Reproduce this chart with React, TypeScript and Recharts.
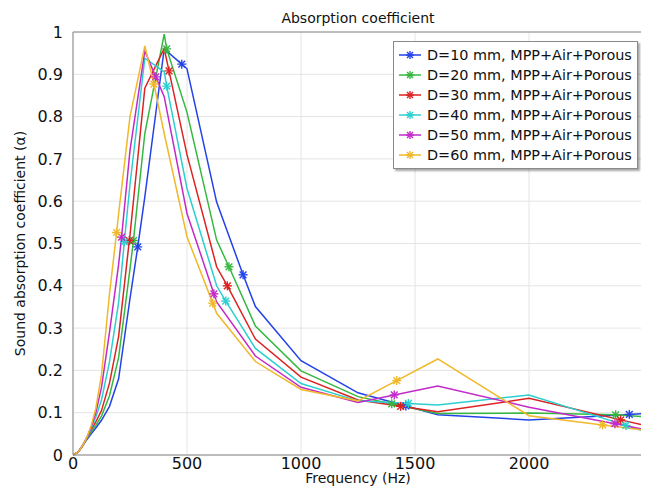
import React from 'react';
import { LineChart, Line, XAxis, YAxis, CartesianGrid, Legend, ReferenceLine } from 'recharts';

// 1/3-octave band centre frequencies (Hz)
const FREQS = [0, 20, 25, 31.5, 40, 50, 63, 80, 100, 125, 160, 200, 250, 315, 400, 500, 630, 800, 1000, 1250, 1600, 2000, 2500];

const D10 = [0, 0.006, 0.009, 0.014, 0.02, 0.028, 0.038, 0.05, 0.064, 0.082, 0.115, 0.18, 0.37, 0.61, 0.96, 0.913, 0.598, 0.351, 0.223, 0.147, 0.095, 0.083, 0.098];
const D20 = [0, 0.006, 0.009, 0.014, 0.02, 0.029, 0.04, 0.055, 0.07, 0.092, 0.14, 0.23, 0.44, 0.76, 0.995, 0.81, 0.508, 0.305, 0.199, 0.138, 0.098, 0.099, 0.091];
const D30 = [0, 0.006, 0.009, 0.014, 0.02, 0.03, 0.042, 0.06, 0.078, 0.105, 0.17, 0.28, 0.52, 0.867, 0.961, 0.71, 0.445, 0.274, 0.184, 0.13, 0.102, 0.134, 0.071];
const D40 = [0, 0.006, 0.009, 0.014, 0.021, 0.03, 0.043, 0.063, 0.09, 0.13, 0.22, 0.36, 0.64, 0.938, 0.906, 0.63, 0.4, 0.252, 0.169, 0.128, 0.118, 0.142, 0.057];
const D50 = [0, 0.006, 0.009, 0.014, 0.021, 0.03, 0.044, 0.066, 0.1, 0.16, 0.29, 0.45, 0.72, 0.955, 0.847, 0.571, 0.362, 0.234, 0.16, 0.124, 0.163, 0.113, 0.061];
const D60 = [0, 0.006, 0.009, 0.014, 0.021, 0.03, 0.045, 0.07, 0.11, 0.19, 0.38, 0.57, 0.8, 0.967, 0.76, 0.516, 0.335, 0.221, 0.155, 0.128, 0.227, 0.093, 0.059];

// marker positions [Hz, alpha]
const M10 = [[284, 0.492], [477, 0.924], [746, 0.426], [1460, 0.116], [2440, 0.096]];
const M20 = [[265, 0.507], [411, 0.96], [684, 0.445], [1398, 0.121], [2380, 0.095]];
const M30 = [[247, 0.507], [421, 0.908], [677, 0.4], [1437, 0.115], [2402, 0.083]];
const M40 = [[225, 0.504], [411, 0.872], [670, 0.364], [1471, 0.122], [2425, 0.07]];
const M50 = [[213, 0.515], [363, 0.894], [618, 0.381], [1409, 0.142], [2377, 0.074]];
const M60 = [[191, 0.526], [355, 0.877], [613, 0.359], [1420, 0.176], [2323, 0.071]];

const NAMES = ['D=10 mm, MPP+Air+Porous', 'D=20 mm, MPP+Air+Porous', 'D=30 mm, MPP+Air+Porous', 'D=40 mm, MPP+Air+Porous', 'D=50 mm, MPP+Air+Porous', 'D=60 mm, MPP+Air+Porous'];
const COLORS = ['#2343e8', '#35b840', '#dc2222', '#2ccfcf', '#c22ac8', '#f0b82a'];

const X_TICKS = [0, 500, 1000, 1500, 2000];
const Y_TICKS = [0, 0.1, 0.2, 0.3, 0.4, 0.5, 0.6, 0.7, 0.8, 0.9, 1];

const FONT = '"DejaVu Sans", Verdana, sans-serif';

const buildSeries = (vals: number[], marks: number[][]) => {
    const pts = FREQS.map((f, i) => ({ f, v: vals[i], m: false }));
    marks.forEach(([f, v]) => pts.push({ f, v, m: true }));
    return pts.sort((a, b) => a.f - b.f);
};

const SERIES = [
    buildSeries(D10, M10),
    buildSeries(D20, M20),
    buildSeries(D30, M30),
    buildSeries(D40, M40),
    buildSeries(D50, M50),
    buildSeries(D60, M60),
];

const Star = ({ cx, cy, color, r = 4.5 }: { cx: number; cy: number; color: string; r?: number }) => {
    const d = r * 0.75;
    return (
        <g stroke={color} strokeWidth={1.4}>
            <line x1={cx - r} y1={cy} x2={cx + r} y2={cy} />
            <line x1={cx} y1={cy - r} x2={cx} y2={cy + r} />
            <line x1={cx - d} y1={cy - d} x2={cx + d} y2={cy + d} />
            <line x1={cx - d} y1={cy + d} x2={cx + d} y2={cy - d} />
        </g>
    );
};

const LegendBox = () => (
    <div
        style={{
            border: '1px solid #8a8a8a',
            background: '#fff',
            boxShadow: '2px 2px 2px rgba(0,0,0,0.35)',
            padding: '3px 5px 3px 4px',
            fontFamily: FONT,
            fontSize: 14.4,
            color: '#111',
        }}
    >
        {NAMES.map((n, i) => (
            <div key={n} style={{ display: 'flex', alignItems: 'center', height: 20, whiteSpace: 'nowrap' }}>
                <svg width={24} height={12} style={{ marginRight: 5 }}>
                    <line x1={1} y1={6} x2={23} y2={6} stroke={COLORS[i]} strokeWidth={1.5} />
                    <Star cx={12} cy={6} color={COLORS[i]} r={4} />
                </svg>
                <span>{n}</span>
            </div>
        ))}
    </div>
);

export default function App() {
    const tickStyle = { fill: '#111', fontSize: 16, fontFamily: FONT };
    return (
        <LineChart width={641} height={482} margin={{ top: 24, right: 6, left: 0, bottom: 0 }}>
            <CartesianGrid stroke="#e4e4e4" strokeWidth={1} />
            <XAxis
                type="number"
                dataKey="f"
                domain={[0, 2500]}
                ticks={X_TICKS}
                tick={tickStyle}
                tickLine={false}
                tickSize={0}
                tickMargin={3}
                axisLine={{ stroke: '#888' }}
                height={35}
                allowDataOverflow
                label={{
                    content: ({ viewBox }: any) => (
                        <text x={viewBox.x + viewBox.width / 2} y={viewBox.y + 28} textAnchor="middle" fontFamily={FONT} fontSize={14} fill="#111">
                            Frequency (Hz)
                        </text>
                    ),
                }}
            />
            <YAxis
                type="number"
                domain={[0, 1]}
                ticks={Y_TICKS}
                tick={tickStyle}
                tickLine={false}
                tickSize={0}
                tickMargin={10}
                axisLine={{ stroke: '#888' }}
                width={65}
                label={{
                    content: ({ viewBox }: any) => {
                        const cy = viewBox.y + viewBox.height / 2;
                        return (
                            <text x={17} y={cy} transform={`rotate(-90 17 ${cy})`} textAnchor="middle" fontFamily={FONT} fontSize={14} fill="#111">
                                Sound absorption coefficient (α)
                            </text>
                        );
                    },
                }}
            />
            <ReferenceLine
                y={1}
                stroke="#888"
                label={{
                    content: ({ viewBox }: any) => (
                        <text x={viewBox.x + viewBox.width / 2} y={viewBox.y - 9} textAnchor="middle" fontFamily={FONT} fontSize={14} fill="#111">
                            Absorption coefficient
                        </text>
                    ),
                }}
            />
            <ReferenceLine x={2500} stroke="#888" />
            {SERIES.map((s, i) => (
                <Line
                    key={NAMES[i]}
                    data={s}
                    dataKey="v"
                    name={NAMES[i]}
                    type="linear"
                    stroke={COLORS[i]}
                    strokeWidth={1.5}
                    isAnimationActive={false}
                    activeDot={false}
                    dot={(p: any) =>
                        p.payload.m ? <Star key={`${i}-${p.index}`} cx={p.cx} cy={p.cy} color={COLORS[i]} /> : <g key={`${i}-${p.index}`} />
                    }
                />
            ))}
            <Legend
                layout="vertical"
                align="center"
                verticalAlign="middle"
                wrapperStyle={{ left: 385, top: 33, width: 'auto' }}
                content={() => <LegendBox />}
            />
        </LineChart>
    );
}
